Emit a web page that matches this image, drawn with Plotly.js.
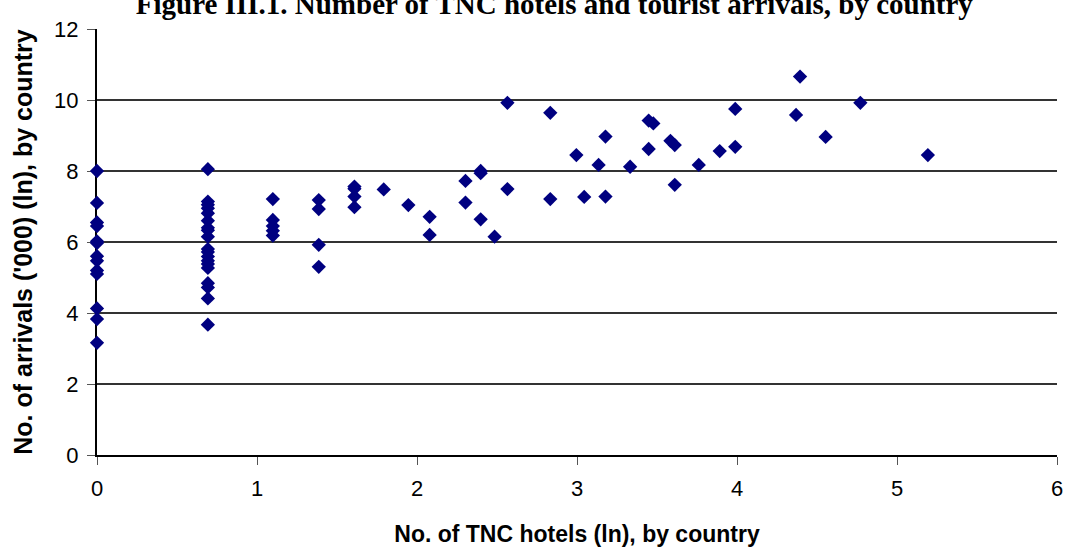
<!DOCTYPE html>
<html>
<head>
<meta charset="utf-8">
<script src="https://cdn.plot.ly/plotly-3.0.1.min.js"></script>
<style>html,body{margin:0;padding:0;background:#fff;}#chart{width:1066px;height:547px;}</style>
</head>
<body>
<div id="chart"></div>
<script>
// ln(number of TNC hotels) by country
const hotelsLn = [
  0,0,0,0,0,0,0,0,0,0,0,0,0,
  0.693,0.693,0.693,0.693,0.693,0.693,0.693,0.693,0.693,0.693,0.693,0.693,0.693,0.693,0.693,0.693,0.693,0.693,0.693,
  1.099,1.099,1.099,1.099,1.099,
  1.386,1.386,1.386,1.386,
  1.609,1.609,1.609,1.609,
  1.792,
  1.946,
  2.079,2.079,
  2.303,2.303,
  2.398,2.398,2.398,
  2.485,
  2.565,2.565,
  2.833,2.833,
  2.996,
  3.045,
  3.135,
  3.178,3.178,
  3.332,
  3.448,3.448,
  3.477,
  3.584,
  3.611,3.611,
  3.761,
  3.892,
  3.989,3.989,
  4.369,
  4.394,
  4.554,
  4.771,
  5.193
];
// ln(arrivals '000) by country
const arrivalsLn = [
  8.0,7.1,6.55,6.45,6.02,5.97,5.6,5.47,5.2,5.1,4.13,3.83,3.16,
  8.05,7.14,7.05,6.95,6.81,6.6,6.4,6.33,6.15,5.8,5.72,5.59,5.47,5.38,5.27,4.84,4.72,4.41,3.67,
  7.21,6.62,6.45,6.32,6.18,
  7.18,6.93,5.92,5.30,
  7.56,7.50,7.28,6.98,
  7.48,
  7.04,
  6.71,6.20,
  7.72,7.11,
  8.0,7.94,6.64,
  6.15,
  9.92,7.49,
  9.64,7.21,
  8.45,
  7.27,
  8.17,
  8.97,7.28,
  8.12,
  9.42,8.62,
  9.34,
  8.85,
  8.73,7.61,
  8.17,
  8.56,
  9.75,8.68,
  9.58,
  10.66,
  8.96,
  9.92,
  8.45
];
const titleText = "Figure III.1. Number of TNC hotels and tourist arrivals, by country";
const xTitle = "No. of TNC hotels (ln), by country";
const yTitle = "No. of arrivals ('000) (ln), by country";

const trace = {
  x: hotelsLn, y: arrivalsLn, type: 'scatter', mode: 'markers',
  cliponaxis: false,
  marker: {symbol: 'diamond', size: 11, color: '#000080', line: {width: 0}},
  hoverinfo: 'x+y'
};
const layout = {
  width: 1066, height: 547,
  margin: {l: 97, r: 9, t: 29, b: 92},
  paper_bgcolor: '#fff', plot_bgcolor: '#fff',
  showlegend: false,
  font: {family: 'Arial, Liberation Sans, sans-serif', color: '#000', size: 22},
  title: {text: '<b>' + titleText + '</b>', font: {family: 'Liberation Serif, Times New Roman, serif', size: 29, color: '#000'},
          x: 0.52, xanchor: 'center', y: 1 - 14 / 547, yref: 'container', yanchor: 'bottom'},
  xaxis: {
    range: [0, 6], dtick: 1, tick0: 0, showgrid: false, zeroline: false,
    showline: true, linecolor: '#000', linewidth: 2, layer: 'below traces',
    ticks: 'outside', ticklen: 8, tickcolor: '#555', tickwidth: 1,
    tickfont: {size: 22}, ticklabelstandoff: 5,
    title: {text: '<b>' + xTitle + '</b>', font: {size: 23}, standoff: 27}
  },
  yaxis: {
    range: [0, 12], dtick: 2, tick0: 0, showgrid: true, gridcolor: '#333', gridwidth: 1.5,
    zeroline: false, showline: true, linecolor: '#000', linewidth: 2, layer: 'below traces',
    ticks: 'outside', ticklen: 8, tickcolor: '#555', tickwidth: 1,
    tickfont: {size: 22}, ticklabelstandoff: 4,
    title: {text: '<b>' + yTitle + '</b>', font: {size: 25}, standoff: 14}
  }
};
Plotly.newPlot('chart', [trace], layout, {displayModeBar: false});
</script>
</body>
</html>
